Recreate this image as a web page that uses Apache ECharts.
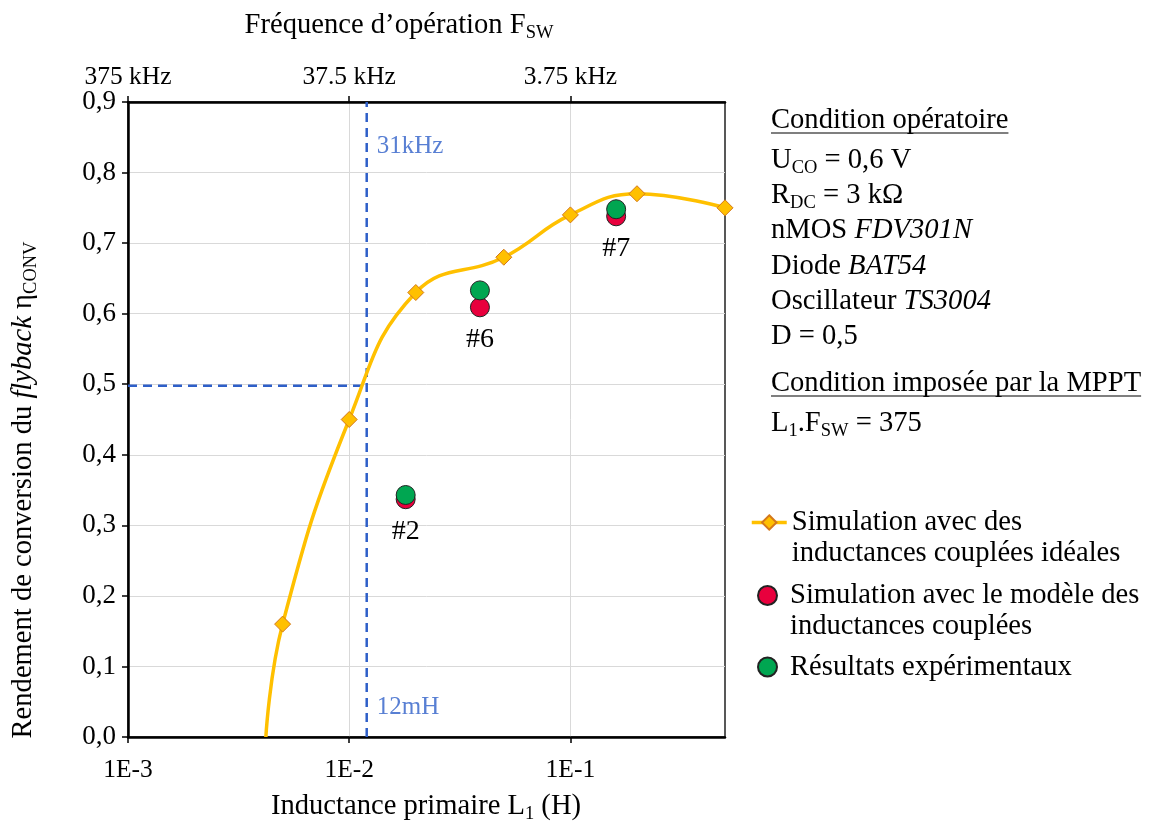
<!DOCTYPE html>
<html><head><meta charset="utf-8">
<script src="https://cdn.jsdelivr.net/npm/echarts@6/dist/echarts.min.js"></script>
<style>html,body{margin:0;padding:0;background:#fff}#c{width:1151px;height:823px}</style>
</head><body><div id="c"></div>
<script>
// ---- data ----
const inductance = [0.0042, 0.005, 0.01, 0.02, 0.05, 0.1, 0.2, 0.5];
const idealEta = [0, 0.16, 0.45, 0.63, 0.68, 0.74, 0.77, 0.75];
const testInductance = [0.018, 0.039, 0.161];
const modelEta = [0.337, 0.609, 0.738];
const measuredEta = [0.343, 0.633, 0.748];
const testLabels = ['#2', '#6', '#7'];
const refInductance = 0.012;
const refEta = 0.498;
const annotationPos = [[0.012, 0.837], [0.012, 0.042]];
const annotationLabels = ['31kHz', '12mH'];
const decadeTicks = [0.001, 0.01, 0.1];
const xTickLabels = ['1E-3', '1E-2', '1E-1'];
const freqTickLabels = ['375 kHz', '37.5 kHz', '3.75 kHz'];
const yTickLabels = ['0,0','0,1','0,2','0,3','0,4','0,5','0,6','0,7','0,8','0,9'];
const seriesNames = ['Simulation avec des\ninductances couplées idéales',
  'Simulation avec le modèle des\ninductances couplées', 'Résultats expérimentaux'];

const FF = '"Liberation Serif", "Times New Roman", serif';
const BLUE = '#2E5FC8';
const chart = echarts.init(document.getElementById('c'), null, {renderer: 'canvas'});

function decadeIndex(v) {
  const l = Math.log10(v);
  const r = Math.round(l);
  if (Math.abs(l - r) > 1e-6) return -1;
  return r + 3;
}
const ctx = document.createElement('canvas').getContext('2d');
function textW(str, size) { ctx.font = size + 'px ' + FF; return ctx.measureText(str).width; }

const TS = 28.6;
const rich = {
  n: {fontFamily: FF, fontSize: TS, color: '#000', lineHeight: 32},
  i: {fontFamily: FF, fontSize: TS, color: '#000', lineHeight: 32, fontStyle: 'italic'},
  s: {fontFamily: FF, fontSize: 18.5, color: '#000', lineHeight: 10, padding: [16, 0, 0, 0]}
};
const blockX = 771;
const blockLines = [
  ['{n|Condition opératoire}', 120],
  ['{n|U}{s|CO}{n| = 0,6 V}', 160],
  ['{n|R}{s|DC}{n| = 3 kΩ}', 195],
  ['{n|nMOS }{i|FDV301N}', 230],
  ['{n|Diode }{i|BAT54}', 266],
  ['{n|Oscillateur }{i|TS3004}', 301],
  ['{n|D = 0,5}', 336],
  ['{n|Condition imposée par la MPPT}', 383],
  ['{n|L}{s|1}{n|.F}{s|SW}{n| = 375}', 423]
];
const graphics = blockLines.map(([t, y]) => ({
  type: 'text', x: blockX, y: y, style: {text: t, rich: rich, align: 'left', verticalAlign: 'middle'}
}));
[['Condition opératoire', 133], ['Condition imposée par la MPPT', 396]].forEach(([s, y]) => {
  graphics.push({type: 'line', shape: {x1: blockX, y1: y, x2: blockX + textW(s, TS), y2: y},
    style: {stroke: '#000', lineWidth: 1.2}});
});
graphics.push({type: 'text', x: 399, y: 25, style: {text: '{n|Fréquence d’opération F}{s|SW}', rich: rich, align: 'center', verticalAlign: 'middle'}});
graphics.push({type: 'text', x: 426, y: 806, style: {text: '{n|Inductance primaire L}{s|1}{n| (H)}', rich: rich, align: 'center', verticalAlign: 'middle'}});
graphics.push({type: 'text', x: 23, y: 490, rotation: Math.PI / 2,
  style: {text: '{n|Rendement de conversion du }{i|flyback}{n| η}{s|CONV}', rich: rich, align: 'center', verticalAlign: 'middle'}});

const legendBase = {
  orient: 'vertical', padding: 0, itemWidth: 35, selectedMode: false,
  textStyle: {fontFamily: FF, fontSize: TS, color: '#000', lineHeight: 31}
};

const option = {
  animation: false,
  backgroundColor: '#fff',
  grid: {left: 128, right: 426, top: 102, bottom: 86, show: true, borderColor: '#222', borderWidth: 1.5, backgroundColor: 'transparent'},
  xAxis: [{
    type: 'log', logBase: 10, min: 0.001, max: 0.5, position: 'bottom',
    axisLine: {lineStyle: {color: '#000', width: 2.5}},
    axisTick: {show: true, length: 6, customValues: decadeTicks, lineStyle: {color: '#000', width: 1.5}},
    axisLabel: {fontFamily: FF, fontSize: 25.5, color: '#000', margin: 20, customValues: decadeTicks,
      formatter: v => { const k = decadeIndex(v); return k >= 0 ? xTickLabels[k] : ''; }},
    splitLine: {show: true, lineStyle: {color: '#d9d9d9', width: 1}},
    minorTick: {show: false}
  }, {
    type: 'log', logBase: 10, min: 0.001, max: 0.5, position: 'top',
    axisLine: {lineStyle: {color: '#000', width: 2.5}},
    axisTick: {show: true, length: 6, customValues: decadeTicks, lineStyle: {color: '#000', width: 1.5}},
    axisLabel: {fontFamily: FF, fontSize: 25.5, color: '#000', margin: 12, customValues: decadeTicks,
      formatter: v => { const k = decadeIndex(v); return k >= 0 ? freqTickLabels[k] : ''; }},
    splitLine: {show: false}
  }],
  yAxis: {
    type: 'value', min: 0, max: 0.9, interval: 0.1,
    axisLine: {show: true, lineStyle: {color: '#000', width: 2.5}},
    axisTick: {show: true, length: 6, lineStyle: {color: '#000', width: 1.5}},
    axisLabel: {fontFamily: FF, fontSize: 27, color: '#000', margin: 12,
      formatter: v => yTickLabels[Math.round(v * 10)]},
    splitLine: {show: true, lineStyle: {color: '#d9d9d9', width: 1}}
  },
  legend: [
    Object.assign({}, legendBase, {left: 750, top: 476, itemHeight: 18, data: [seriesNames[0]],
      lineStyle: {width: 3.5}, formatter: n => '\n' + n}),
    Object.assign({}, legendBase, {left: 757, top: 549, itemHeight: 19, data: [seriesNames[1]],
      formatter: n => '\n' + n}),
    Object.assign({}, legendBase, {left: 757, top: 651.5, itemHeight: 19, data: [seriesNames[2]]})
  ],
  graphic: graphics,
  series: [
    {
      name: 'refV', type: 'line', xAxisIndex: 0, symbol: 'none', silent: true,
      data: [[refInductance, 0], [refInductance, 0.9]],
      lineStyle: {color: BLUE, width: 2.5, type: [9, 6]}, z: 1
    },
    {
      name: 'refH', type: 'line', xAxisIndex: 0, symbol: 'none', silent: true,
      data: [[0.001, refEta], [refInductance, refEta]],
      lineStyle: {color: BLUE, width: 2.5, type: [9, 6]}, z: 1
    },
    {
      name: 'annot', type: 'scatter', xAxisIndex: 0, symbolSize: 0, silent: true,
      data: annotationPos,
      label: {show: true, position: 'right', distance: 10, fontFamily: FF, fontSize: 25, color: BLUE,
        formatter: p => annotationLabels[p.dataIndex]}
    },
    {
      name: seriesNames[0], type: 'line', xAxisIndex: 0, smooth: 0.45,
      symbol: 'diamond', symbolSize: 16,
      data: inductance.map((x, i) => i === 0 ? {value: [x, idealEta[i]], symbol: 'none'} : [x, idealEta[i]]),
      itemStyle: {color: '#FFC000', borderColor: '#D4781A', borderWidth: 1},
      lineStyle: {color: '#FFC000', width: 3.5}, z: 3
    },
    {
      name: seriesNames[1], type: 'scatter', xAxisIndex: 0, symbol: 'circle', symbolSize: 19,
      data: testInductance.map((x, i) => [x, modelEta[i]]),
      itemStyle: {color: '#E8003D', borderColor: '#222', borderWidth: 1, opacity: 1},
      label: {show: true, position: 'bottom', distance: 8, fontFamily: FF, fontSize: 28, color: '#000',
        formatter: p => testLabels[p.dataIndex]}, z: 4
    },
    {
      name: seriesNames[2], type: 'scatter', xAxisIndex: 0, symbol: 'circle', symbolSize: 19,
      data: testInductance.map((x, i) => [x, measuredEta[i]]),
      itemStyle: {color: '#00A651', borderColor: '#222', borderWidth: 1, opacity: 1}, z: 5
    }
  ]
};
chart.setOption(option);
</script>
</body></html>
